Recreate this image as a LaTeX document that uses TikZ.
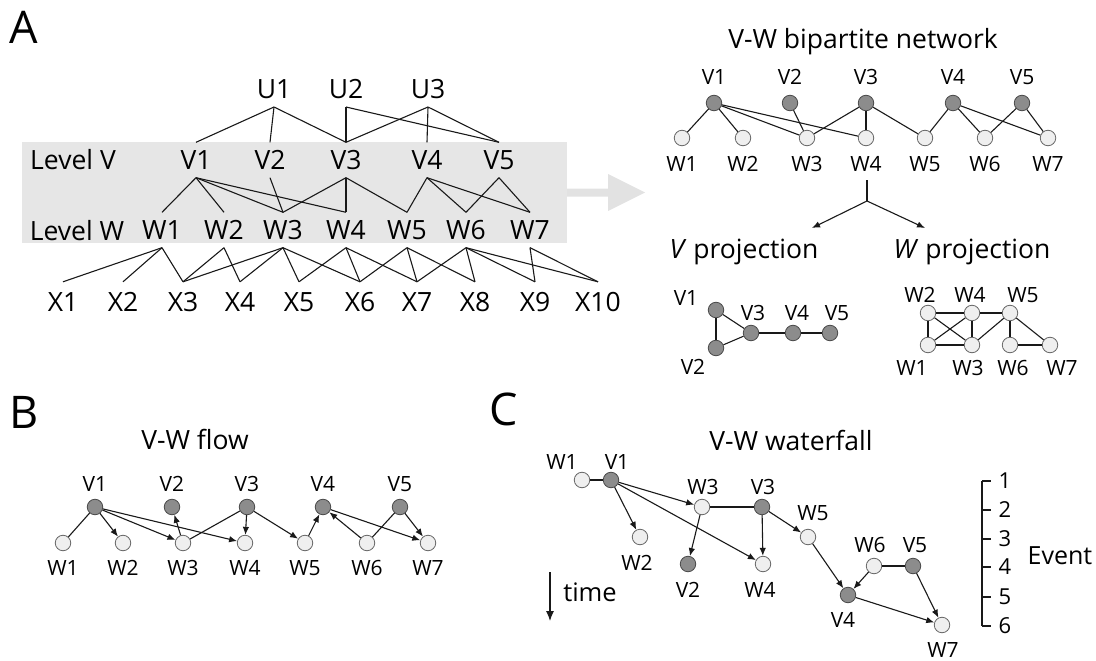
\documentclass[tikz,border=0pt]{standalone}
\usepackage{fontspec}
\setmainfont{Open Sans}
\usetikzlibrary{arrows.meta}

\definecolor{vfill}{HTML}{8C8C8C}
\definecolor{vline}{HTML}{4A4A4A}
\definecolor{wfill}{HTML}{EFEFEF}
\definecolor{wline}{HTML}{686868}
\definecolor{band}{HTML}{E6E6E6}
\definecolor{bigarrow}{HTML}{E2E2E2}

\newcommand\fsLevel{\fontsize{26.5}{31}\selectfont}
\newcommand\fsTitle{\fontsize{26.5}{31}\selectfont}
\newcommand\fsNode{\fontsize{21}{25}\selectfont}
\newcommand\fsPanel{\fontsize{45}{54}\selectfont}
\newcommand\fsTick{\fontsize{22}{26}\selectfont}

\begin{document}
\begin{tikzpicture}[x=1pt,y=-1pt,
  lvl/.style={font=\fsLevel, inner sep=0pt, minimum height=35pt},
  xlvl/.style={font=\fsLevel, inner sep=0pt, minimum height=40pt},
  vnode/.style={circle, draw=vline, fill=vfill, minimum size=15.5pt, inner sep=0pt, line width=0.8pt},
  wnode/.style={circle, draw=wline, fill=wfill, minimum size=15.5pt, inner sep=0pt, line width=0.8pt},
  txt/.style={font=\fsNode, inner sep=0pt},
  ttl/.style={font=\fsTitle, inner sep=0pt},
  panel/.style={font=\fsPanel, inner sep=0pt},
  edge/.style={line width=1.1pt, black!90},
  flow/.style={edge, -{Latex[length=8pt,width=6.5pt]}},
  every label/.style={inner sep=0pt, font=\fsNode},
]
\useasboundingbox (0,0) rectangle (1096,661);

% ---------------- Panel A: multilevel hierarchy ----------------
\node[panel] (pA) at (24,27) {A};

\fill[band] (22,142) rectangle (567,243);
\fill[bigarrow] (567,188.5) -- (608,188.5) -- (608,174) -- (645,192.5)
  -- (608,211) -- (608,196.5) -- (567,196.5) -- cycle;

\node[font=\fsLevel, inner sep=0pt] (levV) at (73,160) {Level V};
\node[font=\fsLevel, inner sep=0pt] (levW) at (77,231) {Level W};

\node[lvl, anchor=south] (U1) at (274,107) {U1};
\node[lvl, anchor=south] (U2) at (346,107) {U2};
\node[lvl, anchor=south] (U3) at (428,107) {U3};

\foreach \n/\x in {V1/196, V2/270, V3/346, V4/427, V5/499}
  \node[lvl] (\n) at (\x,160) {\n};
\foreach \n/\x in {W1/162, W2/224, W3/283, W4/346, W5/407, W6/466, W7/530}
  \node[lvl] (\n) at (\x,230) {\n};
\foreach \n/\x in {X1/63, X2/123, X3/183, X4/240, X5/299, X6/360, X7/417, X8/475, X9/535, X10/598}
  \node[xlvl] (\n) at (\x,302) {\n};

% U -- V
\foreach \a/\b in {U1/V1, U1/V2, U1/V3, U2/V3, U2/V5, U3/V3, U3/V4, U3/V5}
  \draw[edge] (\a.south) -- (\b.north);
% V -- W
\foreach \a/\b in {V1/W1, V1/W2, V1/W3, V1/W4, V2/W3, V3/W3, V3/W4, V3/W5,
                   V4/W5, V4/W6, V4/W7, V5/W6, V5/W7}
  \draw[edge] (\a.south) -- (\b.north);
% W -- X
\foreach \a/\b in {W1/X1, W1/X2, W1/X3, W2/X3, W2/X4, W3/X3, W3/X4, W3/X5, W3/X6,
                   W4/X5, W4/X6, W4/X7, W5/X6, W5/X7, W5/X8,
                   W6/X7, W6/X8, W6/X9, W6/X10, W7/X9, W7/X10}
  \draw[edge] (\a.south) -- (\b.north);

% ---------------- V-W bipartite network ----------------
\node[ttl] (tBip) at (863,42) {V-W bipartite network};
\begin{scope}[label distance=10pt]
  \foreach \n/\x in {V1/714, V2/790, V3/866, V4/953, V5/1022}
    \node[vnode, label=above:\n] (b\n) at (\x,103) {};
  \foreach \n/\x in {W1/682, W2/743, W3/807, W4/866, W5/925, W6/985, W7/1048}
    \node[wnode, label=below:\n] (b\n) at (\x,138) {};
\end{scope}
\foreach \a/\b in {V1/W1, V1/W2, V1/W3, V1/W4, V2/W3, V3/W3, V3/W4, V3/W5,
                   V4/W5, V4/W6, V4/W7, V5/W6, V5/W7}
  \draw[edge] (b\a) -- (b\b);

% split into the two projections
\coordinate (brTop) at (867,180);
\coordinate (brMid) at (867,201);
\coordinate (brV) at (812,228);
\coordinate (brW) at (925,228);
\draw[edge] (brTop) -- (brMid);
\draw[flow] (brMid) -- (brV);
\draw[flow] (brMid) -- (brW);

\node[ttl] (tVp) at (744,252) {\textit{V} projection};
\node[ttl] (tWp) at (972,252) {\textit{W} projection};

% V projection
\node[vnode] (pV1) at (716,310) {};
\node[vnode] (pV2) at (716,348) {};
\node[vnode] (pV3) at (751,333) {};
\node[vnode] (pV4) at (793,333) {};
\node[vnode] (pV5) at (830,333) {};
\node[txt] (lpV1) at (686,298) {V1};
\node[txt] (lpV2) at (693,367) {V2};
\node[txt] (lpV3) at (753,313) {V3};
\node[txt] (lpV4) at (797,313) {V4};
\node[txt] (lpV5) at (837,313) {V5};
\foreach \a/\b in {V1/V2, V1/V3, V2/V3, V3/V4, V4/V5}
  \draw[edge] (p\a) -- (p\b);

% W projection
\node[wnode] (pW2) at (928,313) {};
\node[wnode] (pW4) at (972,313) {};
\node[wnode] (pW5) at (1010,313) {};
\node[wnode] (pW1) at (928,345) {};
\node[wnode] (pW3) at (972,345) {};
\node[wnode] (pW6) at (1010,345) {};
\node[wnode] (pW7) at (1050,345) {};
\node[txt] (lpW2) at (920,295) {W2};
\node[txt] (lpW4) at (970,295) {W4};
\node[txt] (lpW5) at (1023,295) {W5};
\node[txt] (lpW1) at (912,368) {W1};
\node[txt] (lpW3) at (968,368) {W3};
\node[txt] (lpW6) at (1013,368) {W6};
\node[txt] (lpW7) at (1062,368) {W7};
\foreach \a/\b in {W2/W4, W4/W5, W2/W1, W2/W3, W4/W1, W4/W3, W1/W3,
                   W3/W5, W5/W6, W5/W7, W6/W7}
  \draw[edge] (p\a) -- (p\b);

% ---------------- Panel B: V-W flow ----------------
\node[panel] (pB) at (24,412) {B};
\node[ttl] (tFlow) at (195,439) {V-W flow};
\foreach \n/\x in {V1/95, V2/172, V3/247, V4/323, V5/400}
  \node[vnode, label={[label distance=7pt]above:\n}] (f\n) at (\x,507) {};
\foreach \n/\x in {W1/63, W2/123, W3/183, W4/245, W5/305, W6/367, W7/428}
  \node[wnode, label={[label distance=9pt]below:\n}] (f\n) at (\x,543) {};
\foreach \a/\b in {V1/W1, V3/W3, V5/W6}
  \draw[edge] (f\a) -- (f\b);
\foreach \a/\b in {V1/W2, V1/W3, V1/W4, W3/V2, V3/W4, V3/W5, W5/V4, W6/V4, V4/W7, V5/W7}
  \draw[flow] (f\a) -- (f\b);

% ---------------- Panel C: V-W waterfall ----------------
\node[panel] (pC) at (504,409) {C};
\node[ttl] (tFall) at (791,440) {V-W waterfall};

\node[wnode] (cW1) at (582,480) {};
\node[vnode] (cV1) at (611,480) {};
\node[wnode] (cW3) at (702,507) {};
\node[vnode] (cV3) at (762,507) {};
\node[wnode] (cW2) at (640,537) {};
\node[wnode] (cW5) at (808,537) {};
\node[vnode] (cV2) at (688,564) {};
\node[wnode] (cW4) at (763,564) {};
\node[wnode] (cW6) at (874,566) {};
\node[vnode] (cV5) at (913,566) {};
\node[vnode] (cV4) at (848,595) {};
\node[wnode] (cW7) at (942,625) {};

\node[txt] (lcW1) at (562,462) {W1};
\node[txt] (lcV1) at (617,462) {V1};
\node[txt] (lcW3) at (703,487) {W3};
\node[txt] (lcV3) at (763,487) {V3};
\node[txt] (lcW2) at (637,563) {W2};
\node[txt] (lcV2) at (688,590) {V2};
\node[txt] (lcW4) at (760,590) {W4};
\node[txt] (lcW5) at (813,513) {W5};
\node[txt] (lcW6) at (870,545) {W6};
\node[txt] (lcV5) at (915,545) {V5};
\node[txt] (lcV4) at (843,620) {V4};
\node[txt] (lcW7) at (943,650) {W7};

\foreach \a/\b in {W1/V1, W3/V3, W6/V5}
  \draw[edge] (c\a) -- (c\b);
\foreach \a/\b in {V1/W2, V1/W3, V1/W4, W3/V2, V3/W4, V3/W5, W5/V4, W6/V4, V4/W7, V5/W7}
  \draw[flow] (c\a) -- (c\b);

% time arrow
\coordinate (tmTop) at (550,572);
\coordinate (tmBot) at (550,621);
\draw[edge, -{Latex[length=10pt,width=8pt]}] (tmTop) -- (tmBot);
\node[font=\fontsize{25.5}{30}\selectfont, inner sep=0pt] (tmTxt) at (590,592) {time};

% event scale
\coordinate (evTop) at (982,481);
\coordinate (evBot) at (982,626);
\draw[edge] (evTop) -- (evBot);
\foreach \k/\y in {1/481, 2/510, 3/539, 4/567, 5/597, 6/626} {
  \coordinate (ev\k) at (982,\y);
  \draw[edge] (ev\k) -- ++(9,0);
  \node[font=\fsTick, inner sep=0pt] (evn\k) at (1005,\y) {\k};
}
\node[font=\fontsize{25}{30}\selectfont, inner sep=0pt] (evTxt) at (1060,556) {Event};

\end{tikzpicture}
\end{document}
